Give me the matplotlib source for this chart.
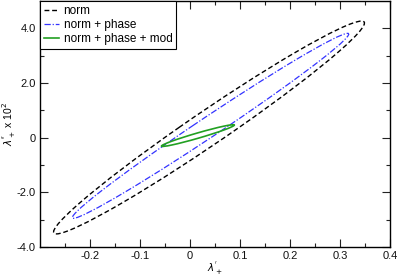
import numpy as np
import matplotlib
matplotlib.use("Agg")
import matplotlib.pyplot as plt
from matplotlib.patches import Circle
from matplotlib.transforms import Affine2D
from matplotlib.lines import Line2D

plt.rcParams['font.family'] = ['Liberation Sans', 'DejaVu Sans']
plt.rcParams['mathtext.fontset'] = 'dejavusans'

# ---- data ----
series_names = ["norm", "norm + phase", "norm + phase + mod"]
tip_lo_x = [-0.267, -0.233, -0.057]
tip_lo_y = [-3.52, -2.95, -0.305]
tip_hi_x = [0.343, 0.315, 0.0886]
tip_hi_y = [4.27, 3.82, 0.463]
halfwidth_x = [0.060, 0.036, 0.0]
halfwidth_y = [0.0, 0.0, 0.10]

xticks = [-0.2, -0.1, 0.0, 0.1, 0.2, 0.3, 0.4]
xtick_labels = ["-0.2", "-0.1", "0", "0.1", "0.2", "0.3", "0.4"]
yticks = [-4.0, -2.0, 0.0, 2.0, 4.0]
ytick_labels = ["-4.0", "-2.0", "0", "2.0", "4.0"]

colors = ["black", "#3333ff", "#22a022"]
styles = [(0, (3.5, 2.0)), (0, (5, 1.5, 1, 1.5)), '-']
widths = [1.0, 0.9, 1.2]

fig = plt.figure(figsize=(3.98, 2.76), dpi=100)
ax = fig.add_axes([0.1005, 0.105, 0.8795, 0.891])

for i in range(len(series_names)):
    cx = (tip_lo_x[i] + tip_hi_x[i]) / 2
    cy = (tip_lo_y[i] + tip_hi_y[i]) / 2
    ux = (tip_hi_x[i] - tip_lo_x[i]) / 2
    uy = (tip_hi_y[i] - tip_lo_y[i]) / 2
    vx = halfwidth_x[i]
    vy = halfwidth_y[i]
    m = np.array([[ux, vx, cx], [uy, vy, cy], [0, 0, 1]])
    c = Circle((0, 0), 1, fill=False, edgecolor=colors[i], linestyle=styles[i],
               linewidth=widths[i], transform=Affine2D(m) + ax.transData)
    ax.add_patch(c)

ax.set_xlim(-0.3, 0.4)
ax.set_ylim(-4.0, 5.0)
ax.set_xticks(xticks, labels=xtick_labels)
ax.set_yticks(yticks, labels=ytick_labels)
ax.set_xticks(np.arange(-0.25, 0.4, 0.1), minor=True)
ax.set_yticks([-3.0, -1.0, 1.0, 3.0], minor=True)
ax.tick_params(which='both', direction='in', top=True, right=True, labelsize=8,
               width=0.8, colors='#222222', labelcolor='#111111')
ax.tick_params(which='major', length=5.5)
ax.tick_params(which='minor', length=3)
ax.tick_params(axis='x', pad=3)
ax.tick_params(axis='y', pad=3)
for s in ax.spines.values():
    s.set_linewidth(1.0)

ax.set_xlabel(r"$\lambda_+^{'}$", fontsize=7.5)
ax.set_ylabel(r"$\lambda_+^{''}$ x 10$^2$", fontsize=7.5)
ax.xaxis.set_label_coords(0.5, -0.05)
ax.yaxis.set_label_coords(-0.062, 0.5)

handles = [Line2D([], [], color=colors[i], linestyle=styles[i], linewidth=widths[i])
           for i in range(len(series_names))]
leg = ax.legend(handles, series_names, loc='upper left', bbox_to_anchor=(0, 1),
                borderaxespad=0, fontsize=8.5, frameon=True, fancybox=False,
                edgecolor='black', framealpha=1, handlelength=1.3, handletextpad=0.4,
                borderpad=0.3, labelspacing=0.2)
leg.get_frame().set_linewidth(0.8)

fig.savefig("out.png", dpi=100)
